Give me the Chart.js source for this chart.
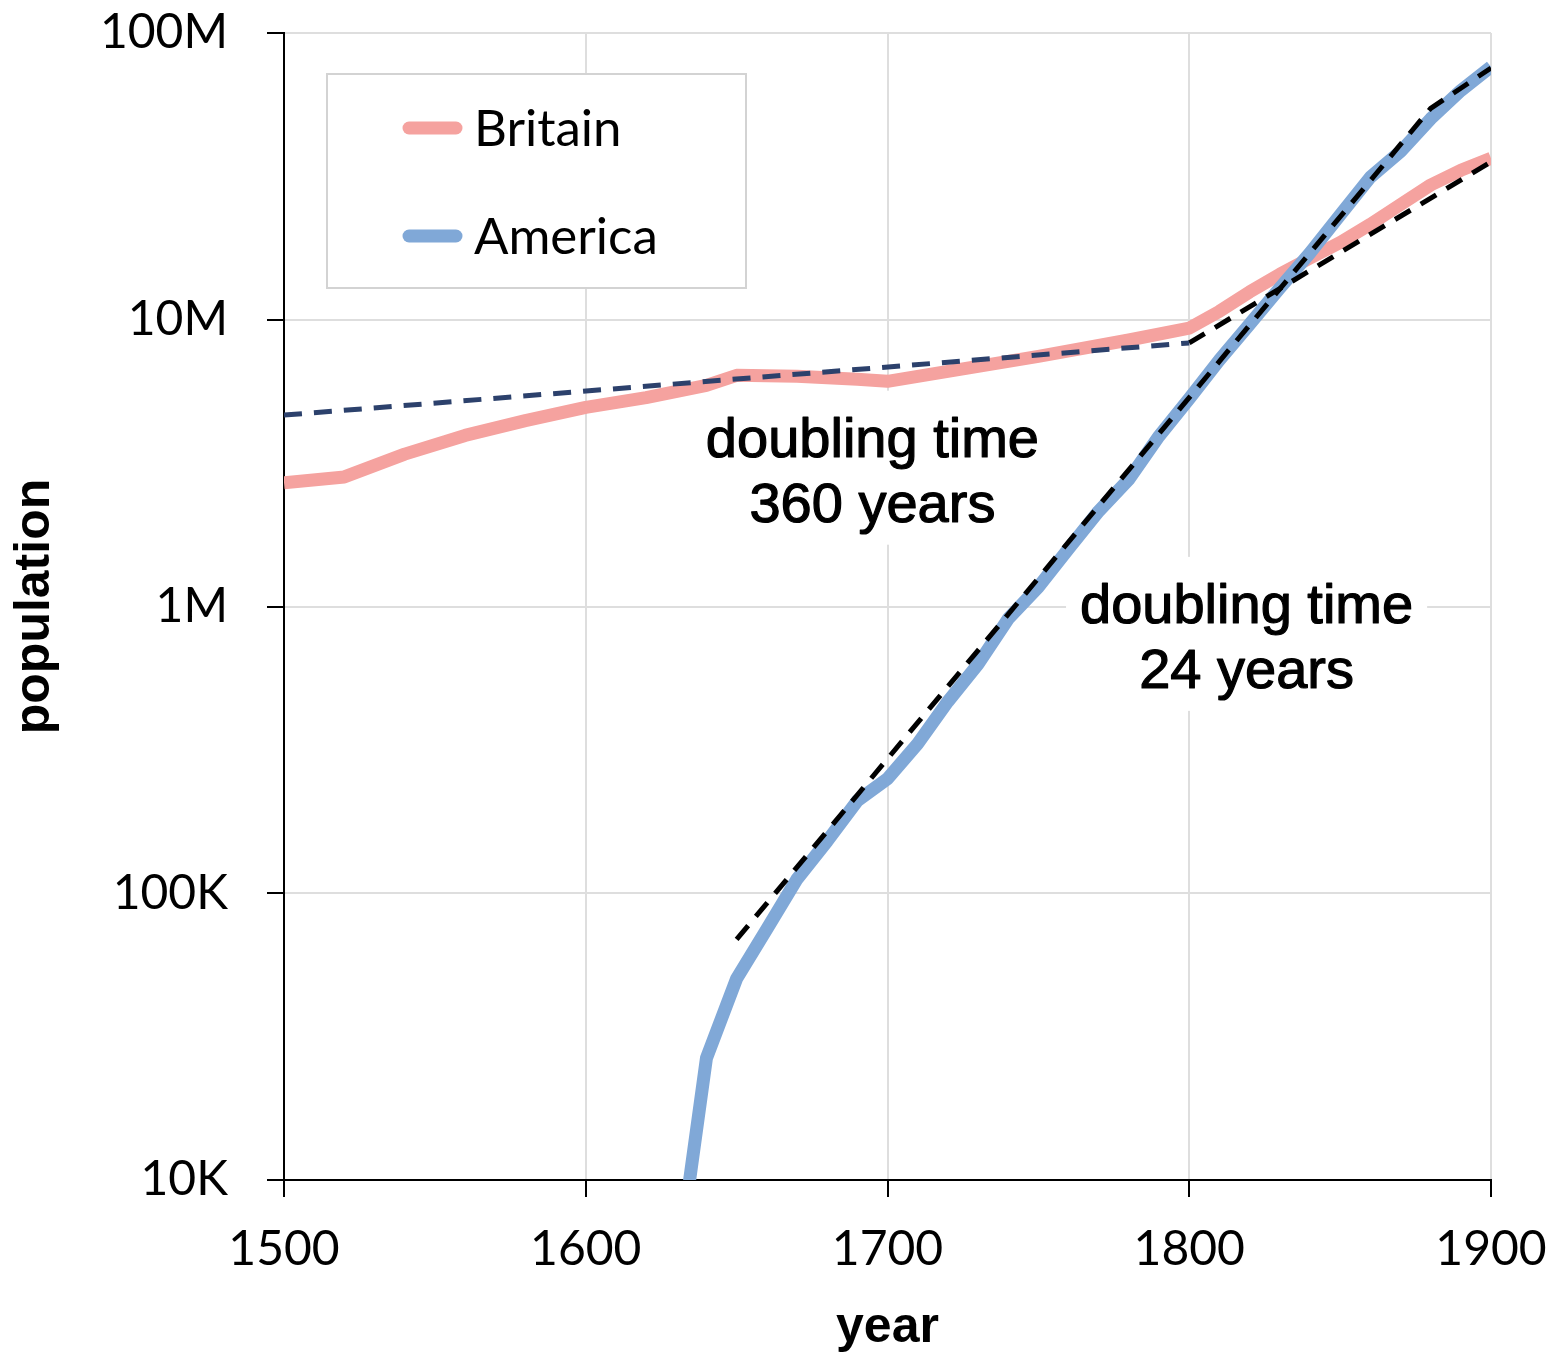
<!DOCTYPE html>
<html><head><meta charset="utf-8">
<script src="https://cdn.jsdelivr.net/npm/chart.js@4.4.1/dist/chart.umd.min.js"></script>
<style>html,body{margin:0;padding:0;background:#fff;} canvas{display:block;}</style>
</head><body>
<canvas id="c" width="1552" height="1358"></canvas>
<script>
// ---- data ----
const britainYears  = [1500,1520,1540,1560,1580,1600,1620,1640,1650,1670,1690,1700,1750,1780,1800,1810,1820,1830,1840,1850,1860,1870,1880,1890,1900];
const britainValues = [2.7e6,2.83e6,3.4e6,3.95e6,4.45e6,4.95e6,5.35e6,5.9e6,6.4e6,6.35e6,6.2e6,6.1e6,7.45e6,8.5e6,9.35e6,10.7e6,12.5e6,14.4e6,16.4e6,18.6e6,21.5e6,25.2e6,29.5e6,33.2e6,36.6e6];
const americaYears  = [1630,1640,1650,1660,1670,1680,1690,1700,1710,1720,1730,1740,1750,1760,1770,1780,1790,1800,1810,1820,1830,1840,1850,1860,1870,1880,1890,1900];
const americaValues = [4.6e3,2.66e4,5.04e4,7.5e4,1.12e5,1.52e5,2.1e5,2.51e5,3.32e5,4.66e5,6.29e5,9.06e5,1.17e6,1.59e6,2.15e6,2.78e6,3.93e6,5.31e6,7.24e6,9.64e6,1.29e7,1.71e7,2.32e7,3.14e7,3.86e7,5.02e7,6.3e7,7.62e7];
const britainTrendEarlyYears  = [1500, 1800];
const britainTrendEarlyValues = [4.65e6, 8.3e6];
const britainTrendLateYears   = [1800, 1900];
const britainTrendLateValues  = [8.3e6, 3.55e7];
const americaTrendYears  = [1650, 1880, 1900];
const americaTrendValues = [6.9e4, 5.46e7, 7.55e7];
const xTickValues = [1500,1600,1700,1800,1900];
const yTickValues = [1e4,1e5,1e6,1e7,1e8];
const yTickLabels = ['10K','100K','1M','10M','100M'];
const legendLabels = ['Britain','America'];
const annotationYears  = [1695, 1819];
const annotationValues = [3.0e6, 7.9e5];
const annotationTexts  = [['doubling time','360 years'],['doubling time','24 years']];

const pts = (xs, ys) => xs.map((x, i) => ({x: x, y: ys[i]}));
const annoFont = '56px "Liberation Sans", Arial, sans-serif';

const boxLegend = {
  id: 'boxLegend',
  afterDatasetsDraw(chart) {
    const {ctx, chartArea} = chart;
    const bx = chartArea.left + 43, by = chartArea.top + 41, bw = 419, bh = 214;
    ctx.save();
    ctx.fillStyle = '#fff';
    ctx.fillRect(bx, by, bw, bh);
    ctx.strokeStyle = '#d3d3d3';
    ctx.lineWidth = 2;
    ctx.strokeRect(bx, by, bw, bh);
    legendLabels.forEach((lab, i) => {
      const ds = chart.data.datasets.find(d => d.label === lab);
      const ly = by + 54 + i * 108;
      ctx.strokeStyle = ds.borderColor;
      ctx.lineWidth = 13;
      ctx.lineCap = 'round';
      ctx.beginPath();
      ctx.moveTo(bx + 82, ly);
      ctx.lineTo(bx + 129, ly);
      ctx.stroke();
      ctx.fillStyle = '#000';
      ctx.font = '51px Lato';
      ctx.textAlign = 'left';
      ctx.textBaseline = 'alphabetic';
      ctx.fillText(lab, bx + 147, ly + 18);
    });
    ctx.restore();
  }
};

function annoGeom(chart, ctx, i) {
  const cx = chart.scales.x.getPixelForValue(annotationYears[i]);
  const cy = chart.scales.y.getPixelForValue(annotationValues[i]);
  const lines = annotationTexts[i];
  const w = Math.max(...lines.map(l => ctx.measureText(l).width));
  return {cx, cy, lines, w};
}

const annotations = {
  id: 'annos',
  beforeDatasetsDraw(chart) {
    const {ctx} = chart;
    ctx.save();
    ctx.font = annoFont;
    annotationYears.forEach((yr, i) => {
      const g = annoGeom(chart, ctx, i);
      ctx.fillStyle = '#fff';
      ctx.fillRect(g.cx - g.w / 2 - 14, g.cy - 79, g.w + 28, 154);
    });
    ctx.restore();
  },
  afterDatasetsDraw(chart) {
    const {ctx} = chart;
    ctx.save();
    ctx.font = annoFont;
    ctx.textAlign = 'center';
    ctx.textBaseline = 'alphabetic';
    ctx.fillStyle = '#000';
    ctx.strokeStyle = '#000';
    ctx.lineWidth = 1.2;
    ctx.lineJoin = 'round';
    annotationYears.forEach((yr, i) => {
      const g = annoGeom(chart, ctx, i);
      g.lines.forEach((l, j) => {
        const by = g.cy - 13 + j * 65;
        ctx.fillText(l, g.cx, by);
        ctx.strokeText(l, g.cx, by);
      });
    });
    ctx.restore();
  }
};

new Chart(document.getElementById('c'), {
  type: 'line',
  data: {
    datasets: [
      {label: 'trend-early', data: pts(britainTrendEarlyYears, britainTrendEarlyValues), borderColor: '#2c416c', borderWidth: 5, borderDash: [18, 12], pointRadius: 0, order: 0, clip: 0},
      {label: 'trend-britain', data: pts(britainTrendLateYears, britainTrendLateValues), borderColor: '#000', borderWidth: 5, borderDash: [18, 12], pointRadius: 0, order: 0, clip: 0},
      {label: 'trend-america', data: pts(americaTrendYears, americaTrendValues), borderColor: '#000', borderWidth: 5, borderDash: [18, 12], pointRadius: 0, order: 0, clip: 0},
      {label: 'America', data: pts(americaYears, americaValues), borderColor: '#80a8d7', borderWidth: 13, pointRadius: 0, borderJoinStyle: 'round', order: 1, clip: 0},
      {label: 'Britain', data: pts(britainYears, britainValues), borderColor: '#f5a29f', borderWidth: 13, pointRadius: 0, borderJoinStyle: 'round', order: 2, clip: 0}
    ]
  },
  options: {
    responsive: false,
    devicePixelRatio: 1,
    animation: false,
    layout: {padding: {top: 33, right: 61, bottom: 0, left: 0}},
    plugins: {legend: {display: false}, tooltip: {enabled: false}},
    scales: {
      x: {
        type: 'linear', min: 1500, max: 1900,
        afterBuildTicks: s => { s.ticks = xTickValues.map(v => ({value: v})); },
        afterFit: s => { s.height = 178; s.paddingLeft = 0; s.paddingRight = 0; },
        ticks: {callback: (v, i) => String(xTickValues[i]), font: {family: 'Lato', size: 48}, color: '#000', padding: 24, maxRotation: 0, autoSkip: false},
        grid: {color: '#dedede', lineWidth: 2, tickLength: 17, tickColor: '#000', tickWidth: 2},
        border: {color: '#000', width: 2},
        title: {display: true, text: 'year', font: {family: '"Liberation Sans", Arial, sans-serif', size: 50, weight: 'bold'}, color: '#000', padding: {top: 0, bottom: 0}}
      },
      y: {
        type: 'logarithmic', min: 1e4, max: 1e8,
        afterBuildTicks: s => { s.ticks = yTickValues.map(v => ({value: v})); },
        afterFit: s => { s.width = 284; s.paddingTop = 0; s.paddingBottom = 0; },
        ticks: {callback: (v, i) => yTickLabels[i], font: {family: 'Lato', size: 48}, color: '#000', padding: 39, autoSkip: false},
        grid: {color: '#dedede', lineWidth: 2, tickLength: 17, tickColor: '#000', tickWidth: 2},
        border: {color: '#000', width: 2},
        title: {display: true, text: 'population', font: {family: '"Liberation Sans", Arial, sans-serif', size: 50, weight: 'bold'}, color: '#000', padding: {top: 5, bottom: 0}}
      }
    }
  },
  plugins: [annotations, boxLegend]
});
</script>
</body></html>
